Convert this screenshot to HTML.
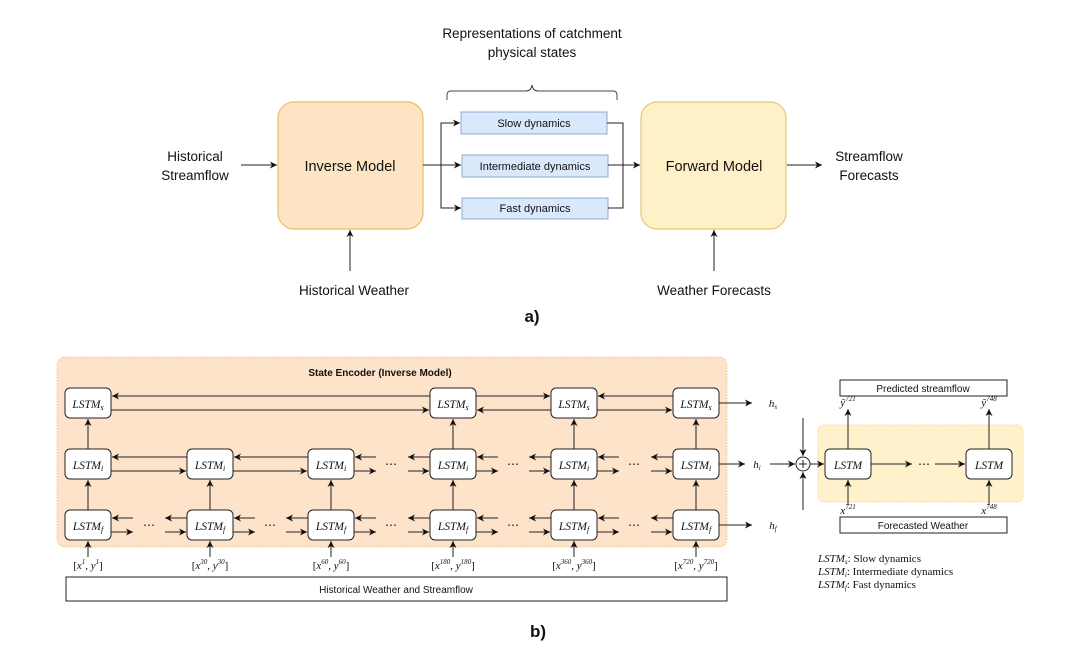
<!DOCTYPE html>
<html><head><meta charset="utf-8"><style>
html,body{margin:0;padding:0;background:#fff;}
svg{display:block}
.s{font-family:"Liberation Sans",sans-serif;fill:#111}
.m{font-family:"Liberation Serif",serif;font-style:italic;fill:#111}
.r{font-family:"Liberation Serif",serif;font-style:normal;fill:#111}
</style></head><body>
<svg width="1080" height="650" viewBox="0 0 1080 650" xmlns="http://www.w3.org/2000/svg">
<defs>
<marker id="a" markerWidth="8" markerHeight="8" refX="7" refY="4" orient="auto" markerUnits="userSpaceOnUse"><path d="M0,0.5 L7,4 L0,7.5 L2,4 Z" fill="#111"/></marker>
</defs>
<!-- PART A -->
<text class="s" x="532" y="38" font-size="13.5" text-anchor="middle">Representations of catchment</text>
<text class="s" x="532" y="57" font-size="13.5" text-anchor="middle">physical states</text>
<path d="M447,100 v-5 q0,-4 4,-4 h75 q5,0 6,-6 q1,6 6,6 h75 q4,0 4,4 v5" fill="none" stroke="#444" stroke-width="1"/>
<rect x="278" y="102" width="145" height="127" rx="16" fill="#fde4c3" stroke="#ebbd6a" stroke-width="1.2"/>
<text class="s" x="350" y="171" font-size="14.5" text-anchor="middle">Inverse Model</text>
<rect x="641" y="102" width="145" height="127" rx="16" fill="#fef1c8" stroke="#e3c878" stroke-width="1.2"/>
<text class="s" x="714" y="171" font-size="14.5" text-anchor="middle">Forward Model</text>
<rect x="461" y="112" width="146" height="22" fill="#dae8fc" stroke="#8fa9d4"/>
<text class="s" x="534" y="127" font-size="11" text-anchor="middle">Slow dynamics</text>
<rect x="462" y="155" width="146" height="22" fill="#dae8fc" stroke="#8fa9d4"/>
<text class="s" x="535" y="170" font-size="11" text-anchor="middle">Intermediate dynamics</text>
<rect x="462" y="198" width="146" height="21" fill="#dae8fc" stroke="#8fa9d4"/>
<text class="s" x="535" y="212" font-size="11" text-anchor="middle">Fast dynamics</text>
<text class="s" x="195" y="161" font-size="13.5" text-anchor="middle">Historical</text>
<text class="s" x="195" y="180" font-size="13.5" text-anchor="middle">Streamflow</text>
<g stroke="#222" stroke-width="1" fill="none">
<line x1="241" y1="165" x2="277" y2="165" marker-end="url(#a)"/>
<line x1="423" y1="165" x2="461" y2="165" marker-end="url(#a)"/>
<path d="M460,123 H441 V208 H460"/>
<line x1="445" y1="123" x2="460" y2="123" marker-end="url(#a)"/>
<line x1="445" y1="208" x2="461" y2="208" marker-end="url(#a)"/>
<path d="M607,123 H623 V208 H608"/>
<line x1="608" y1="165" x2="640" y2="165" marker-end="url(#a)"/>
<line x1="350" y1="271" x2="350" y2="230" marker-end="url(#a)"/>
<line x1="714" y1="271" x2="714" y2="230" marker-end="url(#a)"/>
<line x1="787" y1="165" x2="822" y2="165" marker-end="url(#a)"/>
</g>
<text class="s" x="869" y="161" font-size="13.5" text-anchor="middle">Streamflow</text>
<text class="s" x="869" y="180" font-size="13.5" text-anchor="middle">Forecasts</text>
<text class="s" x="354" y="295" font-size="13.5" text-anchor="middle">Historical Weather</text>
<text class="s" x="714" y="295" font-size="13.5" text-anchor="middle">Weather Forecasts</text>
<text class="s" x="532" y="322" font-size="17" font-weight="bold" text-anchor="middle">a)</text>

<!-- PART B -->
<rect x="57" y="357" width="670" height="190" rx="8" fill="#fde3c9" stroke="#f0c890" stroke-dasharray="1.5,1.5"/>
<text class="s" x="380" y="376" font-size="10" font-weight="bold" text-anchor="middle">State Encoder (Inverse Model)</text>
<rect x="818" y="425" width="205" height="77" rx="6" fill="#fef1cb" stroke="#f0d890" stroke-dasharray="1.5,1.5"/>

<g fill="#fff" stroke="#222" stroke-width="1">
<rect x="65" y="388" width="46" height="30" rx="5"/>
<rect x="430" y="388" width="46" height="30" rx="5"/>
<rect x="551" y="388" width="46" height="30" rx="5"/>
<rect x="673" y="388" width="46" height="30" rx="5"/>
<rect x="65" y="449" width="46" height="30" rx="5"/>
<rect x="187" y="449" width="46" height="30" rx="5"/>
<rect x="308" y="449" width="46" height="30" rx="5"/>
<rect x="430" y="449" width="46" height="30" rx="5"/>
<rect x="551" y="449" width="46" height="30" rx="5"/>
<rect x="673" y="449" width="46" height="30" rx="5"/>
<rect x="65" y="510" width="46" height="30" rx="5"/>
<rect x="187" y="510" width="46" height="30" rx="5"/>
<rect x="308" y="510" width="46" height="30" rx="5"/>
<rect x="430" y="510" width="46" height="30" rx="5"/>
<rect x="551" y="510" width="46" height="30" rx="5"/>
<rect x="673" y="510" width="46" height="30" rx="5"/>
<rect x="825" y="449" width="46" height="30" rx="5"/>
<rect x="966" y="449" width="46" height="30" rx="5"/>
<rect x="66" y="577" width="661" height="24"/>
<rect x="840" y="380" width="167" height="16"/>
<rect x="840" y="517" width="167" height="16"/>
<circle cx="803" cy="464" r="7"/>
</g>
<path d="M799,464 h8 M803,460 v8" stroke="#222" stroke-width="1"/>

<g class="m" font-size="11.5" text-anchor="middle">
<text x="88" y="408">LSTM<tspan font-size="8" dy="2">s</tspan></text>
<text x="453" y="408">LSTM<tspan font-size="8" dy="2">s</tspan></text>
<text x="574" y="408">LSTM<tspan font-size="8" dy="2">s</tspan></text>
<text x="696" y="408">LSTM<tspan font-size="8" dy="2">s</tspan></text>
<text x="88" y="469">LSTM<tspan font-size="8" dy="2">i</tspan></text>
<text x="210" y="469">LSTM<tspan font-size="8" dy="2">i</tspan></text>
<text x="331" y="469">LSTM<tspan font-size="8" dy="2">i</tspan></text>
<text x="453" y="469">LSTM<tspan font-size="8" dy="2">i</tspan></text>
<text x="574" y="469">LSTM<tspan font-size="8" dy="2">i</tspan></text>
<text x="696" y="469">LSTM<tspan font-size="8" dy="2">i</tspan></text>
<text x="88" y="530">LSTM<tspan font-size="8" dy="2">f</tspan></text>
<text x="210" y="530">LSTM<tspan font-size="8" dy="2">f</tspan></text>
<text x="331" y="530">LSTM<tspan font-size="8" dy="2">f</tspan></text>
<text x="453" y="530">LSTM<tspan font-size="8" dy="2">f</tspan></text>
<text x="574" y="530">LSTM<tspan font-size="8" dy="2">f</tspan></text>
<text x="696" y="530">LSTM<tspan font-size="8" dy="2">f</tspan></text>
<text x="848" y="469">LSTM</text>
<text x="989" y="469">LSTM</text>
</g>

<g stroke="#222" stroke-width="1" fill="none">
<line x1="430" y1="396" x2="112" y2="396" marker-end="url(#a)"/>
<line x1="111" y1="410" x2="429" y2="410" marker-end="url(#a)"/>
<line x1="476" y1="396" x2="550" y2="396" marker-end="url(#a)"/>
<line x1="551" y1="410" x2="477" y2="410" marker-end="url(#a)"/>
<line x1="673" y1="396" x2="598" y2="396" marker-end="url(#a)"/>
<line x1="597" y1="410" x2="672" y2="410" marker-end="url(#a)"/>
<line x1="187" y1="457" x2="112" y2="457" marker-end="url(#a)"/>
<line x1="111" y1="471" x2="186" y2="471" marker-end="url(#a)"/>
<line x1="308" y1="457" x2="234" y2="457" marker-end="url(#a)"/>
<line x1="233" y1="471" x2="307" y2="471" marker-end="url(#a)"/>
<line x1="376" y1="457" x2="355" y2="457" marker-end="url(#a)"/>
<line x1="354" y1="471" x2="376" y2="471" marker-end="url(#a)"/>
<line x1="430" y1="457" x2="408" y2="457" marker-end="url(#a)"/>
<line x1="408" y1="471" x2="429" y2="471" marker-end="url(#a)"/>
<line x1="498" y1="457" x2="477" y2="457" marker-end="url(#a)"/>
<line x1="476" y1="471" x2="498" y2="471" marker-end="url(#a)"/>
<line x1="551" y1="457" x2="529" y2="457" marker-end="url(#a)"/>
<line x1="529" y1="471" x2="550" y2="471" marker-end="url(#a)"/>
<line x1="619" y1="457" x2="598" y2="457" marker-end="url(#a)"/>
<line x1="597" y1="471" x2="619" y2="471" marker-end="url(#a)"/>
<line x1="673" y1="457" x2="651" y2="457" marker-end="url(#a)"/>
<line x1="651" y1="471" x2="672" y2="471" marker-end="url(#a)"/>
<line x1="133" y1="518" x2="112" y2="518" marker-end="url(#a)"/>
<line x1="111" y1="532" x2="133" y2="532" marker-end="url(#a)"/>
<line x1="187" y1="518" x2="165" y2="518" marker-end="url(#a)"/>
<line x1="165" y1="532" x2="186" y2="532" marker-end="url(#a)"/>
<line x1="255" y1="518" x2="234" y2="518" marker-end="url(#a)"/>
<line x1="233" y1="532" x2="255" y2="532" marker-end="url(#a)"/>
<line x1="308" y1="518" x2="286" y2="518" marker-end="url(#a)"/>
<line x1="286" y1="532" x2="307" y2="532" marker-end="url(#a)"/>
<line x1="376" y1="518" x2="355" y2="518" marker-end="url(#a)"/>
<line x1="354" y1="532" x2="376" y2="532" marker-end="url(#a)"/>
<line x1="430" y1="518" x2="408" y2="518" marker-end="url(#a)"/>
<line x1="408" y1="532" x2="429" y2="532" marker-end="url(#a)"/>
<line x1="498" y1="518" x2="477" y2="518" marker-end="url(#a)"/>
<line x1="476" y1="532" x2="498" y2="532" marker-end="url(#a)"/>
<line x1="551" y1="518" x2="529" y2="518" marker-end="url(#a)"/>
<line x1="529" y1="532" x2="550" y2="532" marker-end="url(#a)"/>
<line x1="619" y1="518" x2="598" y2="518" marker-end="url(#a)"/>
<line x1="597" y1="532" x2="619" y2="532" marker-end="url(#a)"/>
<line x1="673" y1="518" x2="651" y2="518" marker-end="url(#a)"/>
<line x1="651" y1="532" x2="672" y2="532" marker-end="url(#a)"/>
<line x1="88" y1="510" x2="88" y2="480" marker-end="url(#a)"/>
<line x1="210" y1="510" x2="210" y2="480" marker-end="url(#a)"/>
<line x1="331" y1="510" x2="331" y2="480" marker-end="url(#a)"/>
<line x1="453" y1="510" x2="453" y2="480" marker-end="url(#a)"/>
<line x1="574" y1="510" x2="574" y2="480" marker-end="url(#a)"/>
<line x1="696" y1="510" x2="696" y2="480" marker-end="url(#a)"/>
<line x1="88" y1="449" x2="88" y2="419" marker-end="url(#a)"/>
<line x1="453" y1="449" x2="453" y2="419" marker-end="url(#a)"/>
<line x1="574" y1="449" x2="574" y2="419" marker-end="url(#a)"/>
<line x1="696" y1="449" x2="696" y2="419" marker-end="url(#a)"/>
<line x1="88" y1="557" x2="88" y2="541" marker-end="url(#a)"/>
<line x1="210" y1="557" x2="210" y2="541" marker-end="url(#a)"/>
<line x1="331" y1="557" x2="331" y2="541" marker-end="url(#a)"/>
<line x1="453" y1="557" x2="453" y2="541" marker-end="url(#a)"/>
<line x1="574" y1="557" x2="574" y2="541" marker-end="url(#a)"/>
<line x1="696" y1="557" x2="696" y2="541" marker-end="url(#a)"/>
<line x1="719" y1="403" x2="752" y2="403" marker-end="url(#a)"/>
<line x1="719" y1="464" x2="745" y2="464" marker-end="url(#a)"/>
<line x1="719" y1="525" x2="752" y2="525" marker-end="url(#a)"/>
<line x1="803" y1="418" x2="803" y2="456" marker-end="url(#a)"/>
<line x1="803" y1="510" x2="803" y2="472" marker-end="url(#a)"/>
<line x1="770" y1="464" x2="795" y2="464" marker-end="url(#a)"/>
<line x1="810" y1="464" x2="824" y2="464" marker-end="url(#a)"/>
<line x1="871" y1="464" x2="912" y2="464" marker-end="url(#a)"/>
<line x1="935" y1="464" x2="965" y2="464" marker-end="url(#a)"/>
<line x1="848" y1="449" x2="848" y2="409" marker-end="url(#a)"/>
<line x1="989" y1="449" x2="989" y2="409" marker-end="url(#a)"/>
<line x1="848" y1="505" x2="848" y2="480" marker-end="url(#a)"/>
<line x1="989" y1="505" x2="989" y2="480" marker-end="url(#a)"/>
</g>

<g class="r" font-size="12" fill="#444">
<text x="143" y="529">⋯</text><text x="264" y="529">⋯</text><text x="385" y="529">⋯</text>
<text x="507" y="529">⋯</text><text x="628" y="529">⋯</text>
<text x="385" y="468">⋯</text><text x="507" y="468">⋯</text><text x="628" y="468">⋯</text>
<text x="918" y="468">⋯</text>
</g>

<g class="m" font-size="11" text-anchor="middle">
<text x="88" y="569"><tspan class="r">[</tspan>x<tspan font-size="7" dy="-5">1</tspan><tspan dy="5">, y</tspan><tspan font-size="7" dy="-5">1</tspan><tspan class="r" dy="5">]</tspan></text>
<text x="210" y="569"><tspan class="r">[</tspan>x<tspan font-size="7" dy="-5">30</tspan><tspan dy="5">, y</tspan><tspan font-size="7" dy="-5">30</tspan><tspan class="r" dy="5">]</tspan></text>
<text x="331" y="569"><tspan class="r">[</tspan>x<tspan font-size="7" dy="-5">60</tspan><tspan dy="5">, y</tspan><tspan font-size="7" dy="-5">60</tspan><tspan class="r" dy="5">]</tspan></text>
<text x="453" y="569"><tspan class="r">[</tspan>x<tspan font-size="7" dy="-5">180</tspan><tspan dy="5">, y</tspan><tspan font-size="7" dy="-5">180</tspan><tspan class="r" dy="5">]</tspan></text>
<text x="574" y="569"><tspan class="r">[</tspan>x<tspan font-size="7" dy="-5">360</tspan><tspan dy="5">, y</tspan><tspan font-size="7" dy="-5">360</tspan><tspan class="r" dy="5">]</tspan></text>
<text x="696" y="569"><tspan class="r">[</tspan>x<tspan font-size="7" dy="-5">720</tspan><tspan dy="5">, y</tspan><tspan font-size="7" dy="-5">720</tspan><tspan class="r" dy="5">]</tspan></text>
<text x="773" y="407">h<tspan font-size="7" dy="2">s</tspan></text>
<text x="757" y="468">h<tspan font-size="7" dy="2">i</tspan></text>
<text x="773" y="529">h<tspan font-size="7" dy="2">f</tspan></text>
<text x="848" y="406">ŷ<tspan font-size="7" dy="-5">721</tspan></text>
<text x="989" y="406">ŷ<tspan font-size="7" dy="-5">748</tspan></text>
<text x="848" y="514">x<tspan font-size="7" dy="-5">721</tspan></text>
<text x="989" y="514">x<tspan font-size="7" dy="-5">748</tspan></text>
</g>

<text class="s" x="396" y="593" font-size="10" text-anchor="middle">Historical Weather and Streamflow</text>
<text class="s" x="923" y="392" font-size="10" text-anchor="middle">Predicted streamflow</text>
<text class="s" x="923" y="529" font-size="10" text-anchor="middle">Forecasted Weather</text>

<g font-size="11">
<text x="818" y="562" class="m">LSTM<tspan font-size="7" dy="2">s</tspan><tspan class="r" dy="-2">: Slow dynamics</tspan></text>
<text x="818" y="575" class="m">LSTM<tspan font-size="7" dy="2">i</tspan><tspan class="r" dy="-2">: Intermediate dynamics</tspan></text>
<text x="818" y="588" class="m">LSTM<tspan font-size="7" dy="2">f</tspan><tspan class="r" dy="-2">: Fast dynamics</tspan></text>
</g>
<text class="s" x="538" y="637" font-size="17" font-weight="bold" text-anchor="middle">b)</text>
</svg>
</body></html>
